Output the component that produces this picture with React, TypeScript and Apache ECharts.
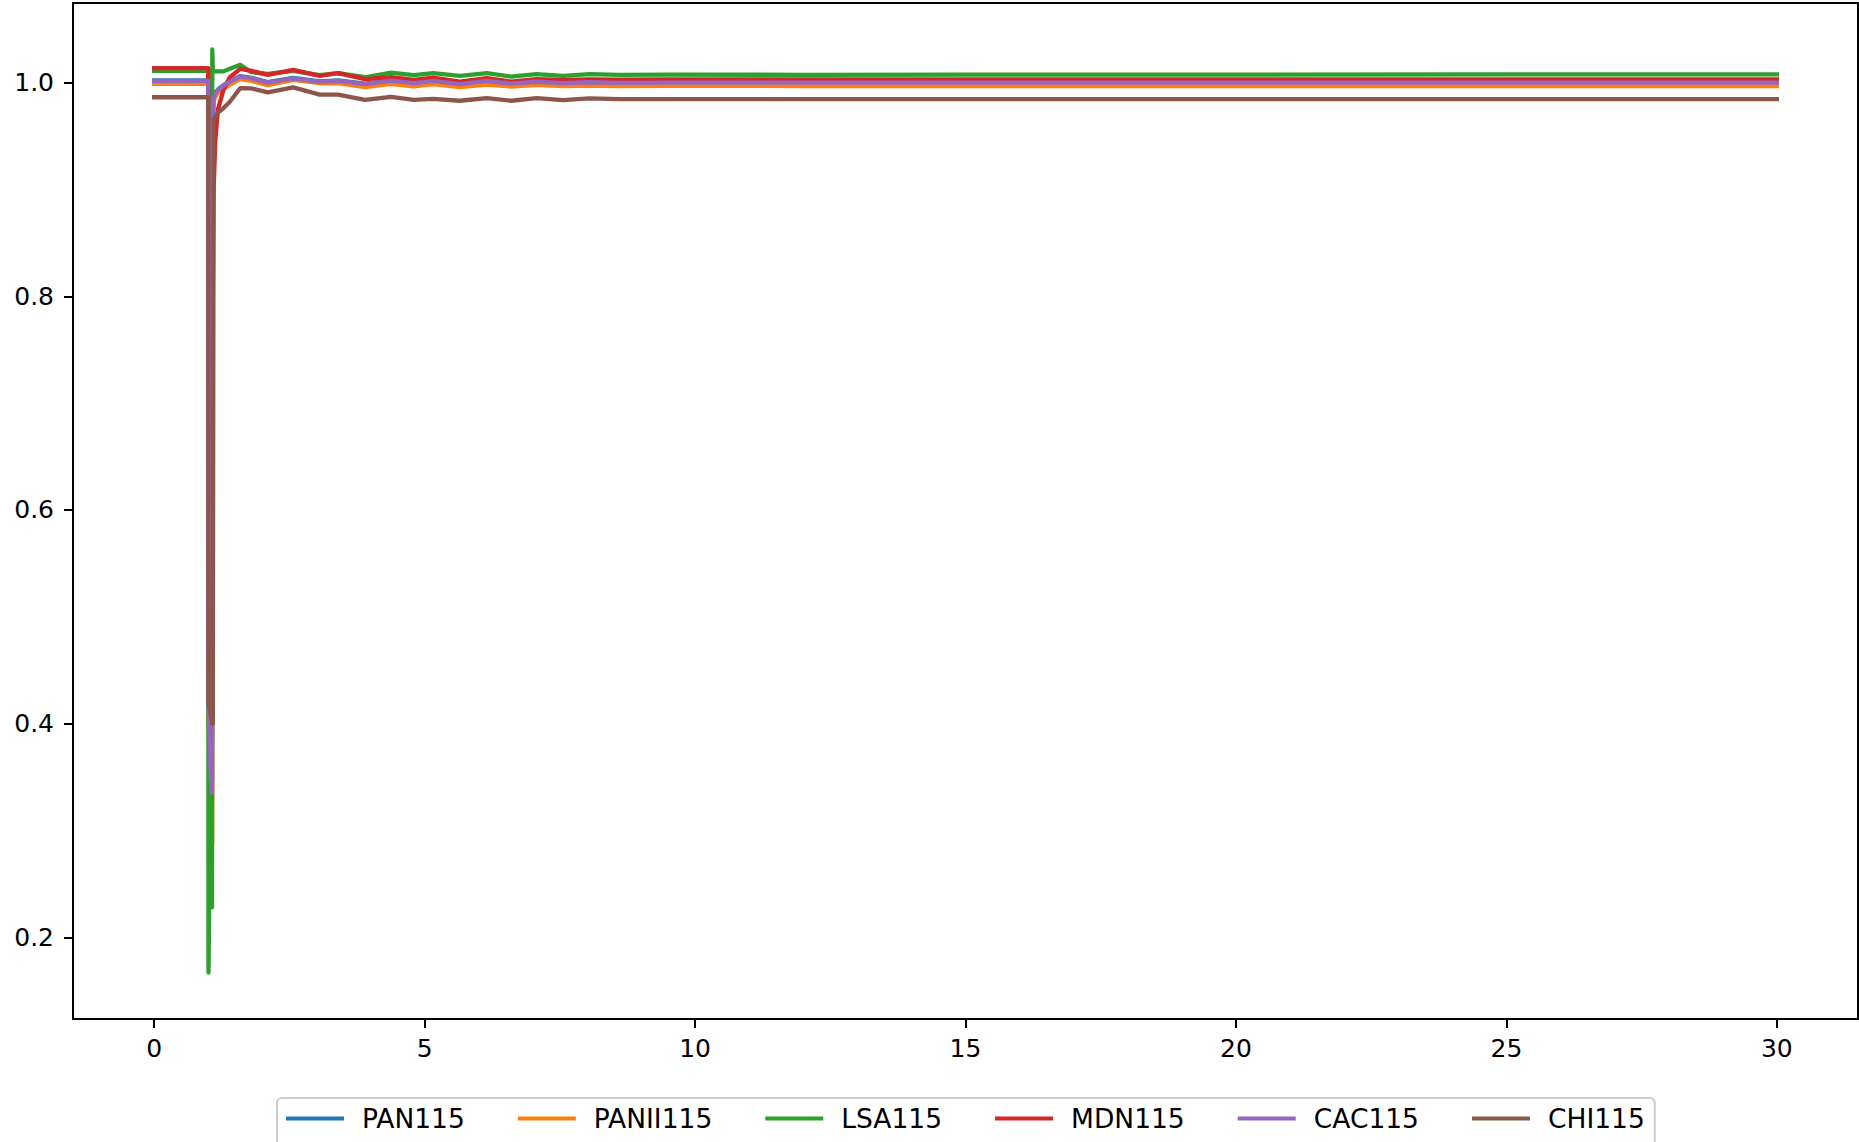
import React, { useEffect, useRef } from "react";
import * as echarts from "echarts";

// Time samples (s)
const T = [
  0, 1.0, 1.005, 1.04, 1.07, 1.075, 1.085, 1.1, 1.13, 1.18, 1.28, 1.4, 1.59, 1.8, 2.1, 2.57, 3.06, 3.4,
  3.9, 4.38, 4.8, 5.16, 5.65, 6.15, 6.6, 7.07, 7.56, 8.05, 8.6, 9.5, 12, 15, 20, 25, 30,
];

const PAN115 = [
  1.0021, 1.0021, 0.41, 0.37, 0.345, 0.345, 0.968, 0.985, 0.9905, 0.9935, 0.9975, 1.0015, 1.006, 1.0045,
  1.0005, 1.0045, 1.0012, 1.002, 0.999, 1.0024, 0.9999, 1.002, 0.999, 1.002, 0.9995, 1.0013, 1.0, 1.0008,
  1.0003, 1.0005, 1.0005, 1.0005, 1.0005, 1.0005, 1.0005,
];
const PANII115 = [
  0.9988, 0.9988, 0.4, 0.33, 0.286, 0.29, 0.965, 0.982, 0.987, 0.99, 0.994, 0.998, 1.0032, 1.0015, 0.9975,
  1.0025, 0.9994, 0.9995, 0.9957, 0.9988, 0.9965, 0.9985, 0.9957, 0.9982, 0.9963, 0.9978, 0.9968, 0.9972,
  0.9968, 0.997, 0.9968, 0.9968, 0.9968, 0.9968, 0.9968,
];
const LSA115 = [
  1.011, 1.011, 0.167, 0.34, 0.228, 1.031, 1.012, 1.011, 1.0105, 1.0105, 1.0105, 1.013, 1.0166, 1.0097,
  1.0081, 1.011, 1.007, 1.0088, 1.005, 1.0094, 1.0069, 1.0088, 1.0063, 1.0088, 1.0056, 1.0079, 1.0063,
  1.0079, 1.0072, 1.0074, 1.0073, 1.0074, 1.0075, 1.0076, 1.0077,
];
const MDN115 = [
  1.0135, 1.0135, 0.45, 0.43, 0.42, 0.42, 0.8, 0.9, 0.945, 0.975, 0.993, 1.005, 1.0128, 1.011, 1.0072,
  1.0119, 1.0063, 1.0088, 1.0032, 1.005, 1.0025, 1.0047, 1.001, 1.0041, 1.001, 1.0032, 1.0025, 1.003,
  1.0028, 1.003, 1.003, 1.003, 1.003, 1.003, 1.003,
];
const CAC115 = [
  1.0016, 1.0016, 0.42, 0.36, 0.335, 0.335, 0.968, 0.985, 0.99, 0.993, 0.997, 1.001, 1.0056, 1.004, 1.0,
  1.004, 1.0007, 1.0016, 0.9985, 1.0019, 0.9994, 1.0015, 0.9985, 1.0015, 0.999, 1.0008, 0.9995, 1.0003,
  0.9998, 1.0, 1.0, 1.0, 1.0, 1.0, 1.0,
];
const CHI115 = [
  0.9863, 0.9863, 0.42, 0.41, 0.4, 0.4, 0.4, 0.965, 0.968, 0.972, 0.976, 0.982, 0.9947, 0.9945, 0.9908,
  0.9955, 0.9888, 0.9888, 0.9838, 0.9866, 0.9838, 0.9847, 0.983, 0.9854, 0.983, 0.9854, 0.9835, 0.9852,
  0.9845, 0.9846, 0.9846, 0.9846, 0.9846, 0.9846, 0.9846,
];

const SERIES_NAMES = ["PAN115", "PANII115", "LSA115", "MDN115", "CAC115", "CHI115"];
const SERIES_VALUES = [PAN115, PANII115, LSA115, MDN115, CAC115, CHI115];
const COLORS = ["#1f77b4", "#ff7f0e", "#2ca02c", "#d62728", "#9467bd", "#8c564b"];

const X_TICKS = [0, 5, 10, 15, 20, 25, 30];
const Y_TICKS = [0.2, 0.4, 0.6, 0.8, 1.0];

const FONT = "DejaVu Sans";

export default function App() {
  const ref = useRef<HTMLDivElement>(null);

  useEffect(() => {
    if (!ref.current) return;
    const chart = echarts.init(ref.current, null, { renderer: "svg" });
    const series = SERIES_NAMES.map((name, si) => ({
      name,
      type: "line",
      data: T.map((t, i) => [t, SERIES_VALUES[si][i]]),
      showSymbol: false,
      symbol: "none",
      smooth: false,
      lineStyle: { color: COLORS[si], width: 4.3, cap: "square", join: "round" },
      itemStyle: { color: COLORS[si] },
      emphasis: { disabled: true },
    }));

    chart.setOption({
      animation: false,
      backgroundColor: "#ffffff",
      textStyle: { fontFamily: FONT },
      grid: {
        left: 73,
        top: 3,
        width: 1785,
        height: 1016,
        show: true,
        borderColor: "#000",
        borderWidth: 2,
        backgroundColor: "transparent",
        containLabel: false,
      },
      legend: {
        data: SERIES_NAMES,
        left: 277,
        top: 1098,
        orient: "horizontal",
        icon: "rect",
        itemWidth: 58,
        itemHeight: 4,
        itemGap: 53,
        padding: [7, 10, 20, 9],
        borderColor: "#cccccc",
        borderWidth: 2,
        borderRadius: 5,
        backgroundColor: "#ffffff",
        textStyle: {
          fontFamily: FONT,
          fontSize: 26.5,
          color: "#000",
          padding: [0, 0, 0, 13],
          lineHeight: 26,
        },
      },
      xAxis: {
        type: "value",
        min: -1.5,
        max: 31.5,
        splitLine: { show: false },
        axisLine: { show: true, onZero: false, lineStyle: { color: "#000", width: 2 } },
        axisTick: {
          show: true,
          length: 9,
          lineStyle: { color: "#000", width: 2 },
          customValues: X_TICKS,
        },
        axisLabel: {
          show: true,
          margin: 17,
          fontSize: 25,
          fontFamily: FONT,
          color: "#000",
          customValues: X_TICKS,
          formatter: (v: number) => String(v),
        },
      },
      yAxis: {
        type: "value",
        min: 0.1235,
        max: 1.0745,
        splitLine: { show: false },
        axisLine: { show: true, onZero: false, lineStyle: { color: "#000", width: 2 } },
        axisTick: {
          show: true,
          length: 9,
          lineStyle: { color: "#000", width: 2 },
          customValues: Y_TICKS,
        },
        axisLabel: {
          show: true,
          margin: 19,
          fontSize: 25,
          fontFamily: FONT,
          color: "#000",
          customValues: Y_TICKS,
          formatter: (v: number) => v.toFixed(1),
        },
      },
      series,
    });

    return () => {
      chart.dispose();
    };
  }, []);

  return (
    <div
      ref={ref}
      style={{ position: "absolute", left: 0, top: 0, width: 1859, height: 1142 }}
    />
  );
}
